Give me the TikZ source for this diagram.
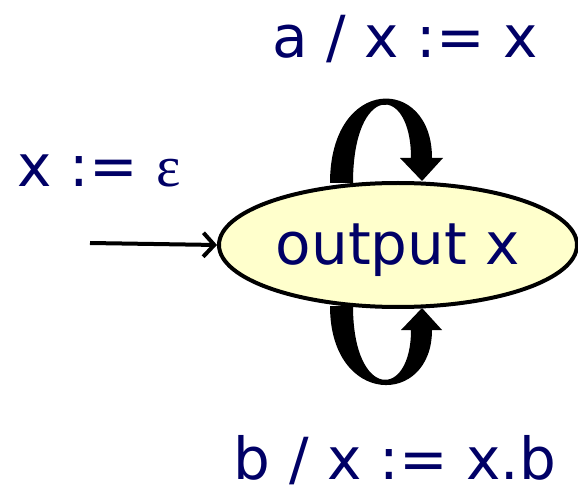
\documentclass[tikz,border=0pt]{standalone}
\usepackage{fontspec}
\setmainfont{DejaVu Sans}
\newfontfamily\greekserif{Liberation Serif}
\usetikzlibrary{arrows.meta,shapes.geometric}
\definecolor{navy}{RGB}{0,0,102}
\definecolor{stfill}{RGB}{255,255,204}
\tikzset{
  lbl/.style={text=navy, font=\fontsize{58}{62}\selectfont, inner sep=0pt, anchor=base},
  statebox/.style={ellipse, draw=black, line width=4pt, fill=stfill, minimum width=358pt, minimum height=124pt, inner sep=0pt, text=navy, font=\fontsize{58}{62}\selectfont, text height=45pt, text depth=5pt},
  loopfill/.style={fill=black, draw=none}
}
\begin{document}
\begin{tikzpicture}[x=1pt,y=-1pt]
\useasboundingbox (0,0) rectangle (578,494);
% loops behind the state
\begin{scope}[shift={(398,245)}]
\fill[loopfill] (-68,-62) .. controls (-68,-170) and (34,-170) .. (34,-87)
  -- (45,-87) -- (24,-64) -- (2,-87) -- (13,-87)
  .. controls (13,-162) and (-45,-162) .. (-45,-62) -- cycle;
\fill[loopfill] (-68,61) .. controls (-68,162) and (34,162) .. (34,85)
  -- (44,85) -- (24,63) -- (3,85) -- (13,85)
  .. controls (13,155) and (-45,155) .. (-45,61) -- cycle;
\end{scope}
\node[statebox] (st) at (398,245) {output x};
\coordinate (init) at (90,243);
\draw[line width=4pt, -{Straight Barb[length=11pt,width=24pt,line width=4pt]}] (init) -- (st.west);
\node[lbl] (top) at (405,58) {a / x := x};
\node[lbl] (ini) at (99,187) {x := {\greekserif ε}};
\node[lbl] (bot) at (395,479) {b / x := x.b};
\end{tikzpicture}
\end{document}
